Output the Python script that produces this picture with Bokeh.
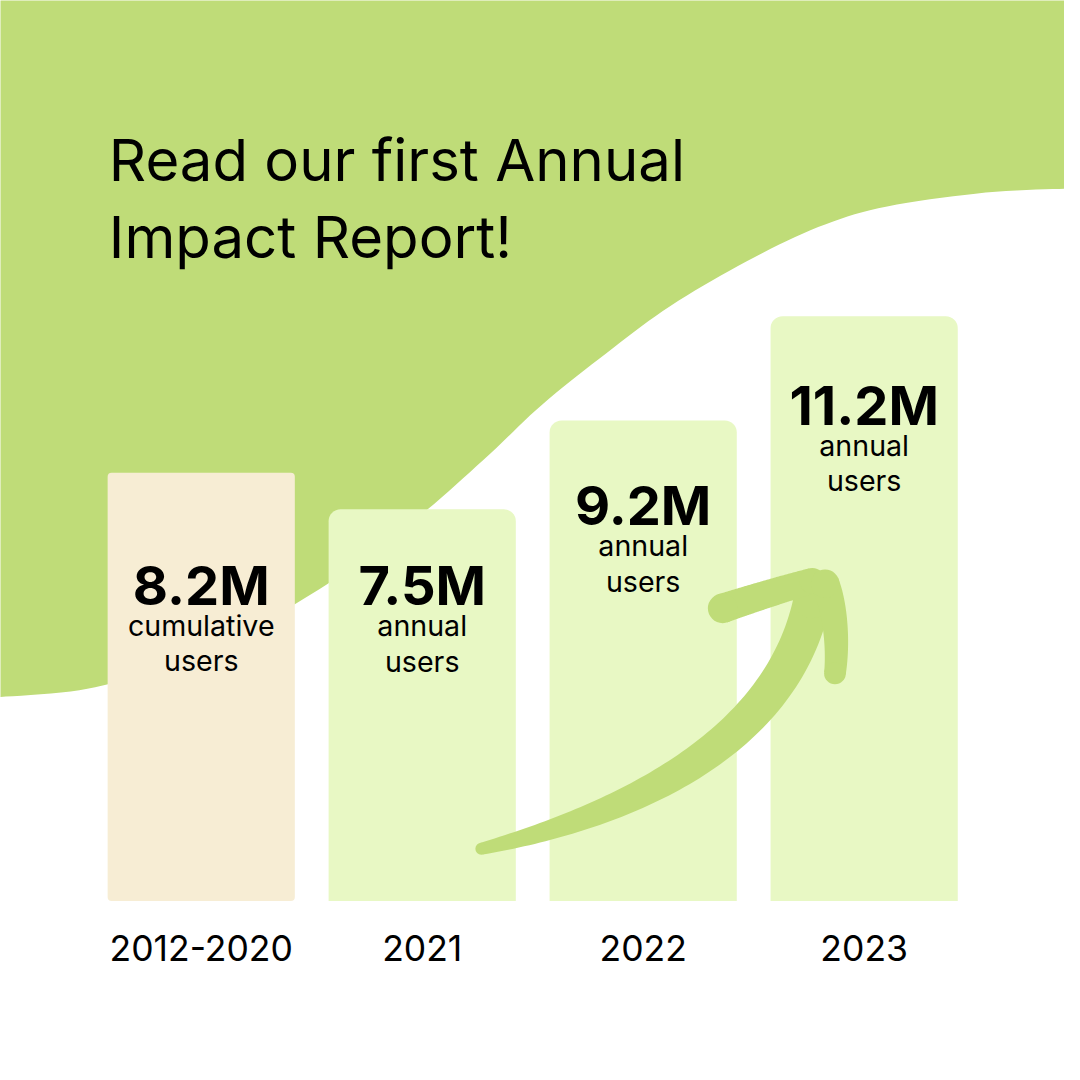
import numpy as np
from bokeh.plotting import figure
from bokeh.models import Range1d, ColumnDataSource, CDSView, IndexFilter
from bokeh.core.properties import value
from bokeh.embed import file_html
from bokeh.resources import INLINE

# ---------------- data ----------------
categories = ["2012-2020", "2021", "2022", "2023"]
users_m = [8.2, 7.5, 9.2, 11.2]
value_labels = ["8.2M", "7.5M", "9.2M", "11.2M"]
sub_line1 = ["cumulative", "annual", "annual", "annual"]
sub_line2 = ["users", "users", "users", "users"]
title_lines = ["Read our first Annual", "Impact Report!"]

# ---------------- layout ----------------
W = 1064
S = W / 1080.0
BASE_PX = 914.0
PX_PER_M = 53.0
BAR_X0, BAR_STEP, BAR_W = 203.75, 224.3, 190.0
VALUE_DROP_PX = [114, 77, 86, 90]
GREEN = "#bfdc78"
BEIGE = "#f7edd4"
LIGHT = "#e8f8c4"
FONT = "Inter"


def ypx(py):
    return (BASE_PX - np.asarray(py, dtype=float)) / PX_PER_M


def fs(px):
    return value(f"{px * S:.1f}px")


p = figure(width=W, height=W, x_range=Range1d(0, 1080),
           y_range=Range1d(float(ypx(1080)), float(ypx(0))),
           output_backend="svg", toolbar_location=None, min_border=0,
           title=None)
p.axis.visible = False
p.grid.visible = False
p.outline_line_color = None
p.background_fill_color = "white"
p.border_fill_color = "white"

# ---------------- background wave ----------------
ctrl = np.array([[0, 707], [80, 700], [150, 682], [230, 648], [300, 612],
                 [370, 566], [433, 517], [497, 460], [550, 410], [615, 358],
                 [680, 310], [757, 265], [830, 230], [900, 209], [1000, 195],
                 [1080, 191]], dtype=float)
pts = [ctrl[0]]
ext = np.vstack([ctrl[0], ctrl, ctrl[-1]])
for i in range(1, len(ext) - 2):
    p0, p1, p2, p3 = ext[i - 1], ext[i], ext[i + 1], ext[i + 2]
    for t in np.linspace(0, 1, 10)[1:]:
        t2, t3 = t * t, t * t * t
        pt = 0.5 * ((2 * p1) + (-p0 + p2) * t + (2 * p0 - 5 * p1 + 4 * p2 - p3) * t2
                    + (-p0 + 3 * p1 - 3 * p2 + p3) * t3)
        pts.append(pt)
pts = np.array(pts)
wx = list(pts[:, 0]) + [1090, 1090, -10, -10]
wy = list(pts[:, 1]) + [191, -10, -10, 707]
p.patch(wx, list(ypx(wy)), fill_color=GREEN, line_color=None)

# ---------------- bars ----------------
bar_x = [BAR_X0 + i * BAR_STEP for i in range(len(categories))]
src = ColumnDataSource(dict(x=bar_x, top=users_m, cat=categories))
p.vbar(x="x", top="top", bottom=0, width=BAR_W, source=src,
       view=CDSView(filter=IndexFilter([0])), fill_color=BEIGE,
       line_color=None, border_radius=4)
p.vbar(x="x", top="top", bottom=0, width=BAR_W, source=src,
       view=CDSView(filter=IndexFilter([1, 2, 3])), fill_color=LIGHT,
       line_color=None, border_radius=(12, 12, 0, 0))


# ---------------- arrow ----------------
def stroke(P, wfun, n_pts=80):
    P = np.asarray(P, dtype=float)
    t = np.linspace(0, 1, n_pts)
    b = [(1 - t) ** 3, 3 * (1 - t) ** 2 * t, 3 * (1 - t) * t ** 2, t ** 3]
    B = sum(bi[:, None] * Pi for bi, Pi in zip(b, P))
    d = (3 * (1 - t) ** 2)[:, None] * (P[1] - P[0]) + (6 * (1 - t) * t)[:, None] * (P[2] - P[1]) \
        + (3 * t ** 2)[:, None] * (P[3] - P[2])
    nrm = np.stack([-d[:, 1], d[:, 0]], axis=1)
    nrm /= np.linalg.norm(nrm, axis=1)[:, None]
    w = wfun(t)
    Lp = B + nrm * (w / 2)[:, None]
    Rp = B - nrm * (w / 2)[:, None]
    poly = np.vstack([Lp, Rp[::-1]])
    p.patch(list(poly[:, 0]), list(ypx(poly[:, 1])), fill_color=GREEN, line_color=None)
    p.scatter([B[0, 0], B[-1, 0]], list(ypx([B[0, 1], B[-1, 1]])),
              size=[w[0] * S, w[-1] * S], fill_color=GREEN, line_color=None)


stroke([[488, 861], [620, 830], [792, 762], [824, 608]],
       lambda t: 12 + 26 * (1 - (1 - t) ** 2))
stroke([[733, 617], [760, 608], [795, 597], [824, 589]],
       lambda t: 30 - 4 * t)
stroke([[837, 592], [846, 612], [851, 650], [847, 683]],
       lambda t: 29 - 7 * t)

# ---------------- texts ----------------
p.text(x=[110, 110], y=list(ypx([162, 240])), text=title_lines,
       text_font=value(FONT), text_font_size=fs(59), text_color="black",
       text_align="left", text_baseline="alphabetic")

tops_px = [BASE_PX - v * PX_PER_M for v in users_m]
val_base = [tp + dr for tp, dr in zip(tops_px, VALUE_DROP_PX)]
lab = ColumnDataSource(dict(
    x=bar_x,
    vy=list(ypx(val_base)),
    s1y=list(ypx([vb + 41 for vb in val_base])),
    s2y=list(ypx([vb + 77 for vb in val_base])),
    cy=list(ypx([962] * len(categories))),
    val=value_labels, s1=sub_line1, s2=sub_line2, cat=categories))
p.text(x="x", y="vy", text="val", source=lab, text_font=value(FONT),
       text_font_size=fs(55), text_font_style="bold", text_color="black",
       text_align="center", text_baseline="alphabetic")
for col in ("s1", "s2"):
    p.text(x="x", y=col + "y", text=col, source=lab, text_font=value(FONT),
           text_font_size=fs(29), text_color="black",
           text_align="center", text_baseline="alphabetic")
p.text(x="x", y="cy", text="cat", source=lab, text_font=value(FONT),
       text_font_size=fs(36), text_color="black",
       text_align="center", text_baseline="alphabetic")

open("out.html", "w").write(file_html(p, INLINE))
